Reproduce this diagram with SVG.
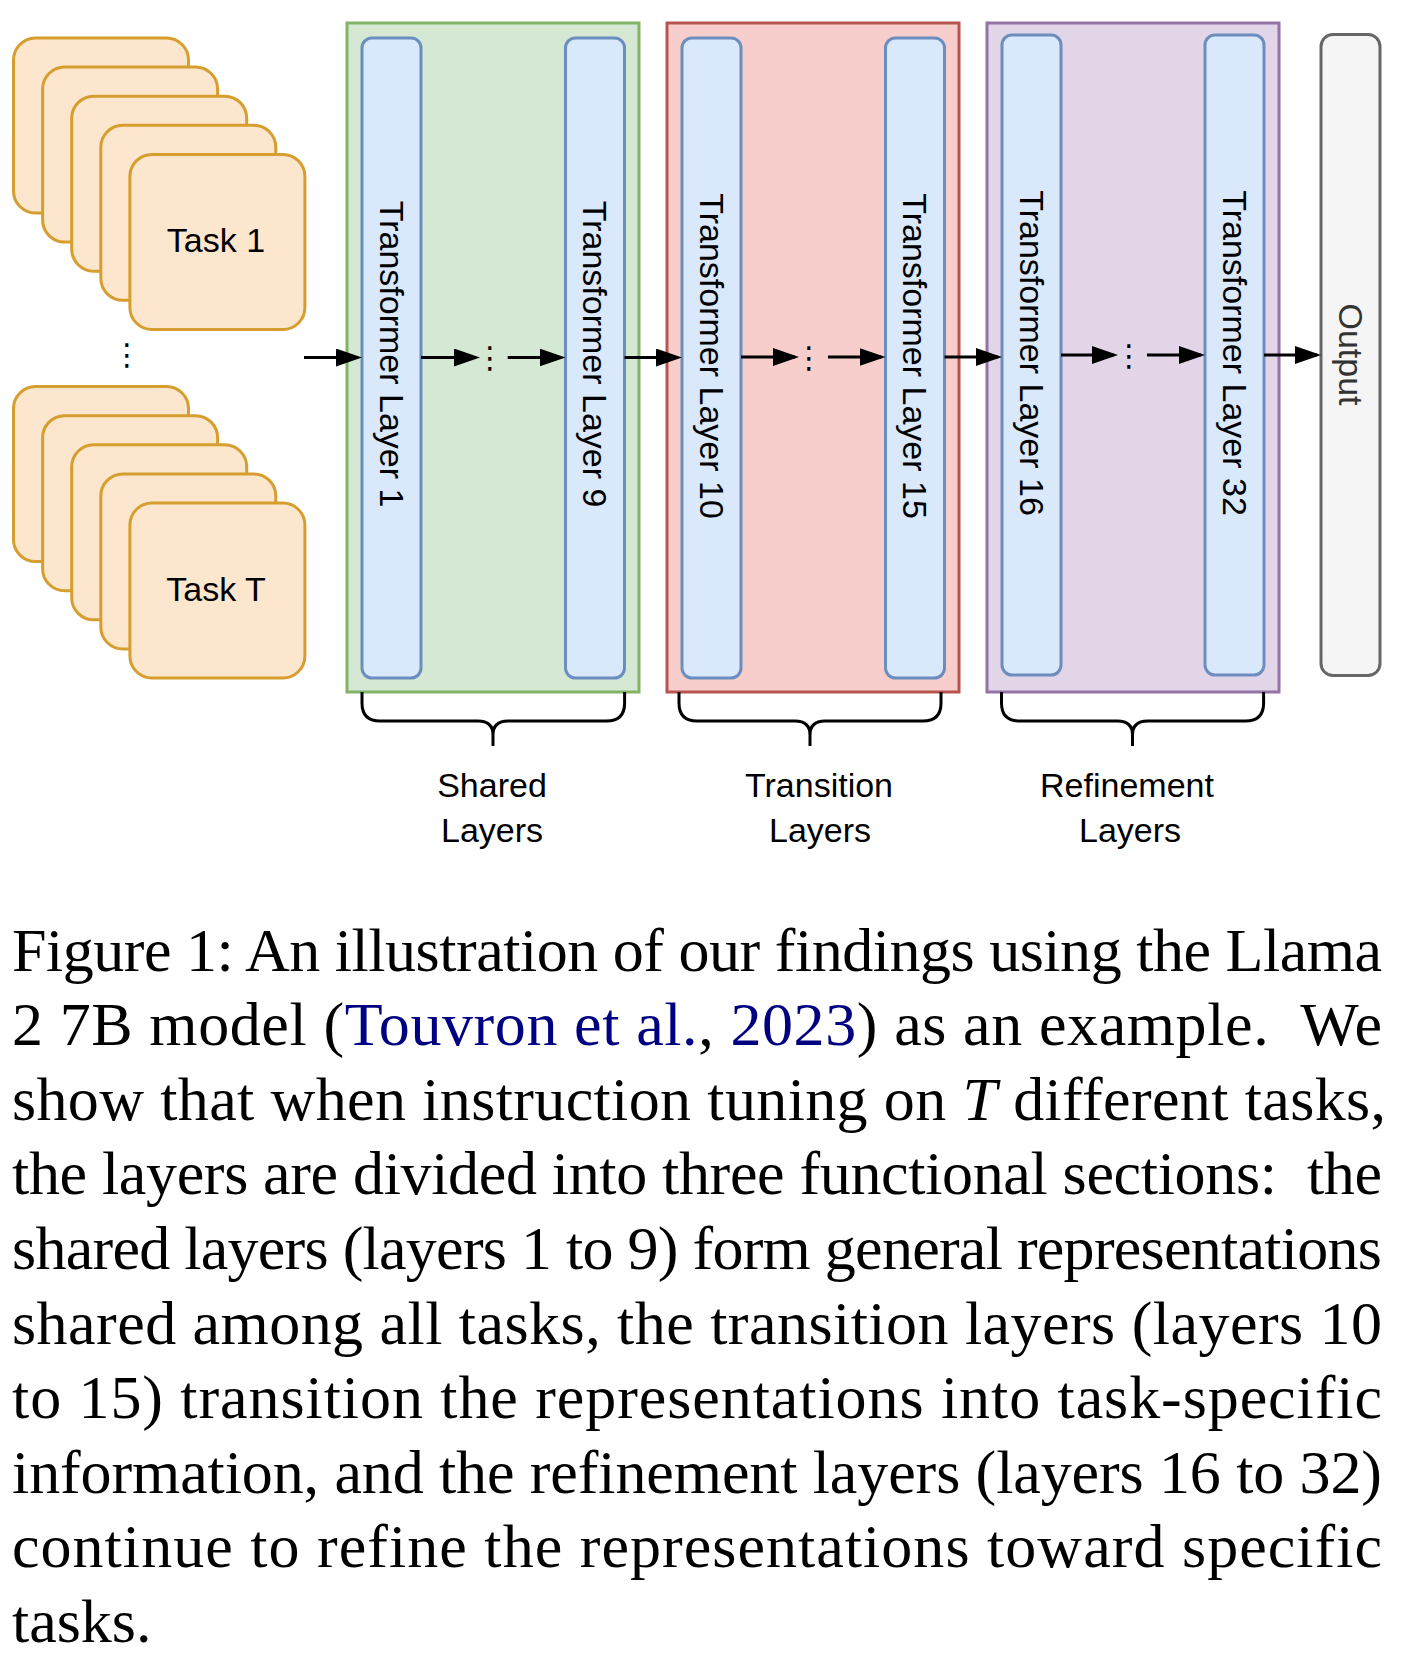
<svg xmlns="http://www.w3.org/2000/svg" width="1408" height="1664" viewBox="0 0 1408 1664">
<defs>
<style>
.task{fill:#fce6cd;stroke:#d69e2e;stroke-width:3}
.layer{fill:#dae8fc;stroke:#6c8ebf;stroke-width:3}
.lbl{font-family:"Liberation Sans",Arial,sans-serif;font-size:34px;fill:#000}
.dots{font-family:"DejaVu Sans",sans-serif;font-size:30px;fill:#000}
.conn{fill:none;stroke:#000;stroke-width:3}
.brace{fill:none;stroke:#000;stroke-width:3;stroke-linejoin:round}
.cap{font-family:"Liberation Serif","Times New Roman",serif;font-size:62px;fill:#000;white-space:pre}
.cite{fill:#000080}
</style>
<marker id="ah" viewBox="0 0 26 18" refX="22" refY="9" markerWidth="26" markerHeight="18" markerUnits="userSpaceOnUse" orient="auto">
<path d="M0,0 L26,9 L0,18 z" fill="#000"/>
</marker>
</defs>
<rect width="1408" height="1664" fill="#fff"/>

<g id="tasks-top">
<rect class="task" x="13.5" y="38" width="175" height="175" rx="22"/>
<rect class="task" x="42.6" y="67.1" width="175" height="175" rx="22"/>
<rect class="task" x="71.7" y="96.2" width="175" height="175" rx="22"/>
<rect class="task" x="100.8" y="125.3" width="175" height="175" rx="22"/>
<rect class="task" x="129.9" y="154.4" width="175" height="175" rx="22"/>
<text class="lbl" x="216" y="252" text-anchor="middle">Task 1</text>
</g>
<g id="tasks-dots">
<text class="dots" x="127" y="354" text-anchor="middle" dominant-baseline="central">⋮</text>
</g>
<g id="tasks-bottom">
<rect class="task" x="13.5" y="386.6" width="175" height="175" rx="22"/>
<rect class="task" x="42.6" y="415.7" width="175" height="175" rx="22"/>
<rect class="task" x="71.7" y="444.8" width="175" height="175" rx="22"/>
<rect class="task" x="100.8" y="473.9" width="175" height="175" rx="22"/>
<rect class="task" x="129.9" y="503" width="175" height="175" rx="22"/>
<text class="lbl" x="216" y="601" text-anchor="middle">Task T</text>
</g>

<g id="shared-group">
<rect x="347" y="23" width="292" height="669" fill="#d5e8d4" stroke="#82b366" stroke-width="3"/>
</g>
<g id="transition-group">
<rect x="667" y="23" width="292" height="669" fill="#f8cecc" stroke="#b85450" stroke-width="3"/>
</g>
<g id="refinement-group">
<rect x="987" y="23" width="292" height="669" fill="#e1d5e7" stroke="#9673a6" stroke-width="3"/>
</g>

<g id="layer1">
<rect class="layer" x="362" y="38" width="59" height="640" rx="10"/>
<text class="lbl" text-anchor="middle" x="0" y="11.8" transform="translate(391.5,354) rotate(90)">Transformer Layer 1</text>
</g>
<g id="layer9">
<rect class="layer" x="565.5" y="38" width="59" height="640" rx="10"/>
<text class="lbl" text-anchor="middle" x="0" y="11.8" transform="translate(595,354) rotate(90)">Transformer Layer 9</text>
</g>
<g id="layer10">
<rect class="layer" x="682" y="38" width="59" height="640" rx="10"/>
<text class="lbl" text-anchor="middle" x="0" y="11.8" transform="translate(711.5,356) rotate(90)">Transformer Layer 10</text>
</g>
<g id="layer15">
<rect class="layer" x="885.5" y="38" width="59" height="640" rx="10"/>
<text class="lbl" text-anchor="middle" x="0" y="11.8" transform="translate(915,356) rotate(90)">Transformer Layer 15</text>
</g>
<g id="layer16">
<rect class="layer" x="1002" y="35" width="59" height="640" rx="10"/>
<text class="lbl" text-anchor="middle" x="0" y="11.8" transform="translate(1031.5,353) rotate(90)">Transformer Layer 16</text>
</g>
<g id="layer32">
<rect class="layer" x="1205" y="35" width="59" height="640" rx="10"/>
<text class="lbl" text-anchor="middle" x="0" y="11.8" transform="translate(1234.5,353) rotate(90)">Transformer Layer 32</text>
</g>
<g id="output">
<rect x="1321" y="34.5" width="59" height="641" rx="12" fill="#f5f5f5" stroke="#666666" stroke-width="3"/>
<text class="lbl" text-anchor="middle" x="0" y="11.8" transform="translate(1350.5,354.5) rotate(90)" style="fill:#333">Output</text>
</g>

<g id="layer-dots">
<text class="dots" x="490" y="357.5" text-anchor="middle" dominant-baseline="central">⋮</text>
<text class="dots" x="809" y="357" text-anchor="middle" dominant-baseline="central">⋮</text>
<text class="dots" x="1129" y="355" text-anchor="middle" dominant-baseline="central">⋮</text>
</g>

<g id="connectors">
<path class="conn" marker-end="url(#ah)" d="M304,357.5 H358"/>
<path class="conn" marker-end="url(#ah)" d="M421,357.5 H476"/>
<path class="conn" marker-end="url(#ah)" d="M507.7,357.5 H561.5"/>
<path class="conn" marker-end="url(#ah)" d="M624.5,357.5 H678"/>
<path class="conn" marker-end="url(#ah)" d="M741,357 H795"/>
<path class="conn" marker-end="url(#ah)" d="M828,357 H881.5"/>
<path class="conn" marker-end="url(#ah)" d="M944.5,357 H998"/>
<path class="conn" marker-end="url(#ah)" d="M1061,355 H1114"/>
<path class="conn" marker-end="url(#ah)" d="M1147,355 H1201"/>
<path class="conn" marker-end="url(#ah)" d="M1264,355 H1317"/>
</g>

<g id="shared-brace">
<path class="brace" d="M362,692 V703 Q362,721 380,721 H478 Q493,721 493,735 V746 M493,735 Q493,721 508,721 H606.6 Q624.6,721 624.6,703 V692"/>
<text class="lbl" x="492" y="797" text-anchor="middle">Shared</text>
<text class="lbl" x="492" y="842" text-anchor="middle">Layers</text>
</g>
<g id="transition-brace">
<path class="brace" d="M679,692 V703 Q679,721 697,721 H795 Q810,721 810,735 V746 M810,735 Q810,721 825,721 H923 Q941,721 941,703 V692"/>
<text class="lbl" x="819" y="797" text-anchor="middle">Transition</text>
<text class="lbl" x="820" y="842" text-anchor="middle">Layers</text>
</g>
<g id="refinement-brace">
<path class="brace" d="M1001.5,692 V703 Q1001.5,721 1019.5,721 H1117.5 Q1132.5,721 1132.5,735 V746 M1132.5,735 Q1132.5,721 1147.5,721 H1245.6 Q1263.6,721 1263.6,703 V692"/>
<text class="lbl" x="1127" y="797" text-anchor="middle">Refinement</text>
<text class="lbl" x="1130" y="842" text-anchor="middle">Layers</text>
</g>

<g id="caption">
<text class="cap" x="12" y="970.6" textLength="1370" lengthAdjust="spacing">Figure 1: An illustration of our findings using the Llama</text>
<text class="cap" x="12" y="1045.2" textLength="1370" lengthAdjust="spacing">2 7B model (<tspan class="cite">Touvron et al.</tspan>, <tspan class="cite">2023</tspan>) as an example.  We</text>
<text class="cap" x="12" y="1119.8" textLength="1374" lengthAdjust="spacing">show that when instruction tuning on <tspan font-style="italic">T</tspan> different tasks,</text>
<text class="cap" x="12" y="1194.4" textLength="1370" lengthAdjust="spacing">the layers are divided into three functional sections:  the</text>
<text class="cap" x="12" y="1269" textLength="1370" lengthAdjust="spacing">shared layers (layers 1 to 9) form general representations</text>
<text class="cap" x="12" y="1343.6" textLength="1370" lengthAdjust="spacing">shared among all tasks, the transition layers (layers 10</text>
<text class="cap" x="12" y="1418.2" textLength="1370" lengthAdjust="spacing">to 15) transition the representations into task-specific</text>
<text class="cap" x="12" y="1492.8" textLength="1370" lengthAdjust="spacing">information, and the refinement layers (layers 16 to 32)</text>
<text class="cap" x="12" y="1567.4" textLength="1370" lengthAdjust="spacing">continue to refine the representations toward specific</text>
<text class="cap" x="12" y="1642">tasks.</text>
</g>
</svg>
